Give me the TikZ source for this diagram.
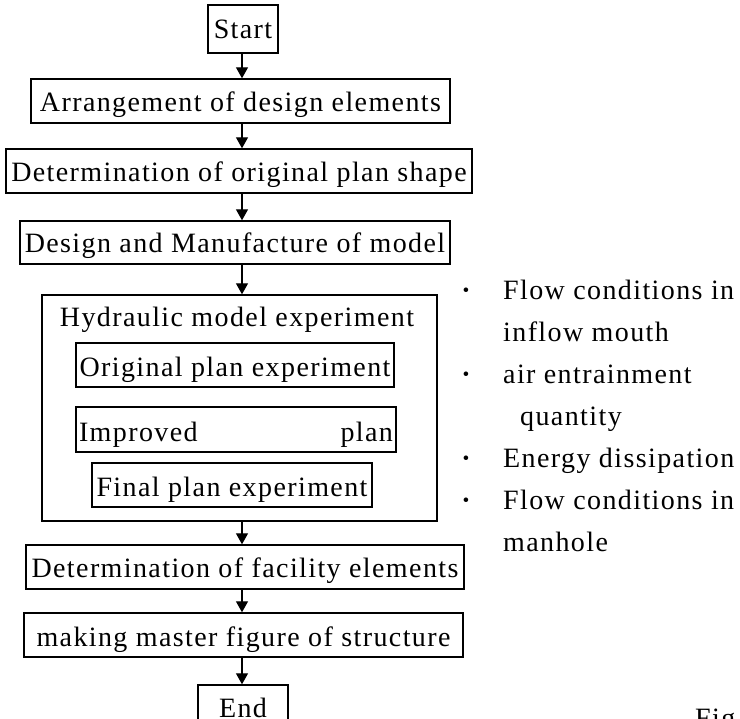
\documentclass[tikz,border=0pt]{standalone}
\usepackage{fontspec}
\setmainfont{Liberation Serif}[LetterSpace=5]
\usetikzlibrary{arrows.meta}
\begin{document}
\begin{tikzpicture}[x=1pt,y=-1pt,
  txt/.style={inner sep=0pt, font=\fontsize{28}{42}\selectfont},
  box/.style={txt, draw, line width=1.4pt, minimum height=44pt, text height=21pt, text depth=0pt},
  flow/.style={-{Triangle[length=11pt,width=12pt]}, line width=1.3pt},
  dot/.style={txt, anchor=base, font=\fontsize{28}{42}\selectfont\bfseries},
]
\useasboundingbox (0,0) rectangle (740,719);
\clip (0,0) rectangle (740,719);
\coordinate (axis) at (242,0);
\node[box, minimum width=70pt, minimum height=48pt, text height=20pt] (start) at (243,29) {Start};
\node[box, minimum width=419pt] (arr) at (240.5,101) {Arrangement of design elements};
\node[box, minimum width=466pt] (det) at (239,171) {Determination of original plan shape};
\node[box, minimum width=430pt, minimum height=43pt] (des) at (235,242.5) {Design and Manufacture of model};
\node[box, minimum width=395pt, minimum height=226pt] (hyd) at (239.5,408) {};
\node[txt, anchor=base] (hydt) at (237,327) {Hydraulic model experiment};
\node[box, minimum width=318pt, text height=24pt] (orig) at (235,365) {Original plan experiment};
\node[box, minimum width=320pt, minimum height=45pt, text height=24pt, text width=314pt] (imp) at (236,429.5) {Improved\hfill plan};
\node[box, minimum width=280pt, text height=24pt] (fin) at (232,485) {Final plan experiment};
\node[box, minimum width=438pt, text height=22pt] (fac) at (245,567) {Determination of facility elements};
\node[box, minimum width=439pt, text height=23pt] (mas) at (243.5,635) {making master figure of structure};
\node[box, minimum width=90pt, minimum height=48pt, text height=16pt] (end) at (243,709) {End};
\draw[flow] (start.south -| axis) -- (arr.north -| axis);
\draw[flow] (arr.south -| axis) -- (det.north -| axis);
\draw[flow] (det.south -| axis) -- (des.north -| axis);
\draw[flow] (des.south -| axis) -- (hyd.north -| axis);
\draw[flow] (hyd.south -| axis) -- (fac.north -| axis);
\draw[flow] (fac.south -| axis) -- (mas.north -| axis);
\draw[flow] (mas.south -| axis) -- (end.north -| axis);
% side notes
\node[dot] (d1) at (466,300) {·};
\node[dot] (d2) at (466,384) {·};
\node[dot] (d3) at (466,468) {·};
\node[dot] (d4) at (466,510) {·};
\node[txt, anchor=base west] (n1) at (503,300) {Flow conditions in};
\node[txt, anchor=base west] (n1b) at (503,342) {inflow mouth};
\node[txt, anchor=base west] (n2) at (503,384) {air entrainment};
\node[txt, anchor=base west] (n2b) at (520,426) {quantity};
\node[txt, anchor=base west] (n3) at (503,468) {Energy dissipation};
\node[txt, anchor=base west] (n4) at (503,510) {Flow conditions in};
\node[txt, anchor=base west] (n4b) at (503,552) {manhole};
\node[txt, anchor=base west] (fig) at (695,727) {Fig};
\end{tikzpicture}
\end{document}
